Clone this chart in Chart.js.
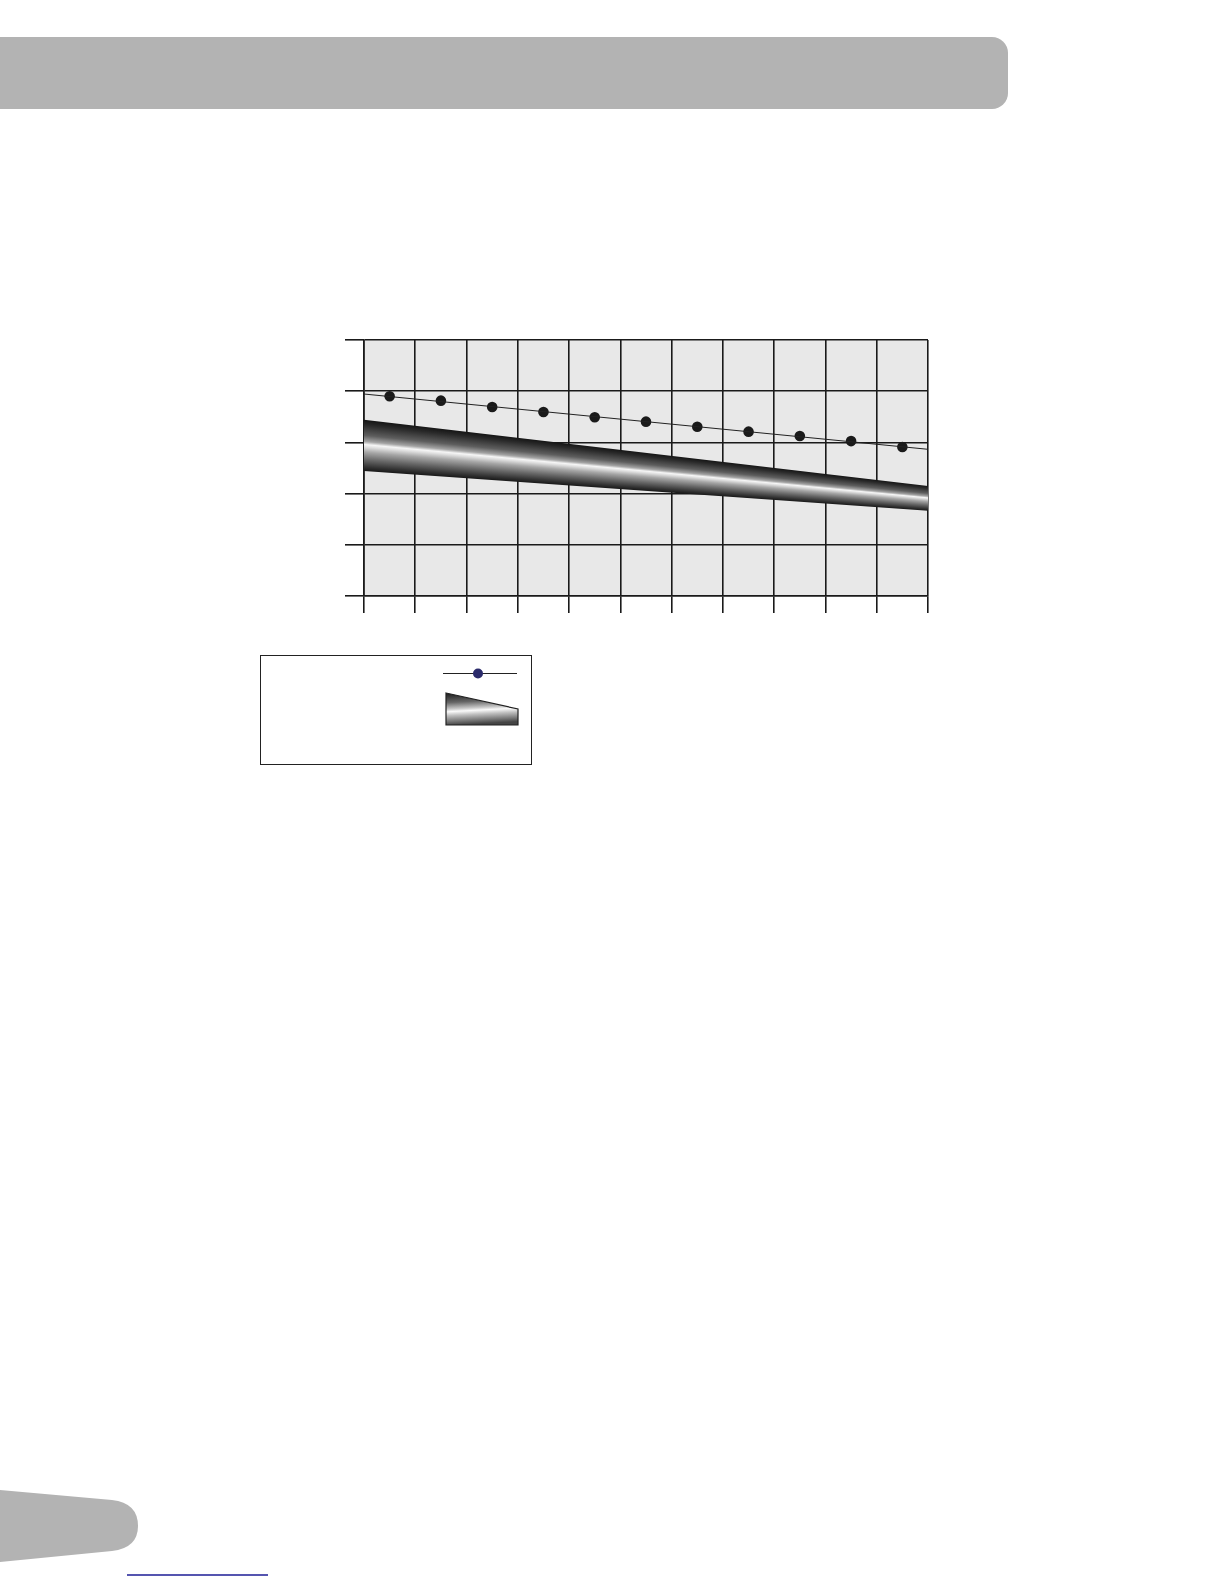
<!DOCTYPE html>
<html>
<head>
<meta charset="utf-8">
<script src="https://cdn.jsdelivr.net/npm/chart.js@4.4.1/dist/chart.umd.min.js"></script>
<style>
  html, body { margin: 0; padding: 0; background: #ffffff; }
  body { width: 1224px; height: 1584px; position: relative; overflow: hidden; font-family: "Liberation Sans", Arial, sans-serif; }
  #header { position: absolute; left: 0; top: 37px; width: 1008px; height: 72px; background: #b3b3b3; border-radius: 0 16px 16px 0; }
  #chartWrap { position: absolute; left: 345px; top: 330px; width: 593px; height: 293px; }
  #legendBox { position: absolute; left: 260px; top: 655px; width: 270px; height: 108px; border: 1.5px solid #222; background: #fff; }
</style>
</head>
<body>
<div id="header"></div>

<div id="chartWrap"><canvas id="chart"></canvas></div>

<div id="legendBox"></div>
<svg style="position:absolute;left:0;top:0" width="1224" height="1584">
  <defs>
    <linearGradient id="legGrad" x1="0" y1="0" x2="0.12" y2="1">
      <stop offset="0" stop-color="#1a1a1a"/>
      <stop offset="0.3" stop-color="#666"/>
      <stop offset="0.5" stop-color="#c8c8c8"/>
      <stop offset="0.58" stop-color="#fafafa"/>
      <stop offset="0.7" stop-color="#c0c0c0"/>
      <stop offset="0.88" stop-color="#777"/>
      <stop offset="1" stop-color="#444"/>
    </linearGradient>
  </defs>
  <line x1="443" y1="673.5" x2="517" y2="673.5" stroke="#222" stroke-width="1"/>
  <circle cx="478" cy="673.5" r="5" fill="#2b2b6b"/>
  <polygon points="446,693 518,709 518,725 446,725" fill="url(#legGrad)" stroke="#222" stroke-width="1.2"/>
  <path d="M0,1490 L112,1500 Q138,1503 138,1526 Q138,1548 112,1551 L0,1562 Z" fill="#b3b3b3"/>
  <line x1="127" y1="1575" x2="268" y2="1575" stroke="#1c1c96" stroke-width="1.5"/>
</svg>

<script>
// ---- data ----
const pointX = [0.5, 1.5, 2.5, 3.5, 4.5, 5.5, 6.5, 7.5, 8.5, 9.5, 10.5];
const pointValues = [78.0, 76.3, 73.8, 71.9, 69.8, 68.1, 66.1, 64.2, 62.5, 60.5, 58.2];
const trendX = [0, 11];
const trendValues = [78.9, 57.3];
const bandX = [0, 11];
const bandUpper = [68.8, 43.0];
const bandLower = [48.8, 33.3];
const xTicks = [0, 11, 1];   // min, max, step
const yTicks = [0, 100, 20]; // min, max, step

const toPts = (xs, ys) => xs.map((x, i) => ({ x: x, y: ys[i] }));

let cachedPattern = null, cacheKey = '';
function bandFill(context) {
  const chart = context.chart;
  const area = chart.chartArea;
  const xs = chart.scales.x, ys = chart.scales.y;
  if (!area || !xs || !ys) return 'rgba(0,0,0,0)';
  const key = chart.width + 'x' + chart.height + ':' + area.left + ',' + area.top + ',' + area.right + ',' + area.bottom;
  if (cachedPattern && cacheKey === key) return cachedPattern;
  const off = document.createElement('canvas');
  off.width = chart.width; off.height = chart.height;
  const g = off.getContext('2d');
  const x0 = xs.getPixelForValue(bandX[0]), x1 = xs.getPixelForValue(bandX[1]);
  const t0 = ys.getPixelForValue(bandUpper[0]), t1 = ys.getPixelForValue(bandUpper[1]);
  const b0 = ys.getPixelForValue(bandLower[0]), b1 = ys.getPixelForValue(bandLower[1]);
  for (let px = Math.floor(x0) - 1; px <= Math.ceil(x1) + 1; px++) {
    const f = Math.min(1, Math.max(0, (px + 0.5 - x0) / (x1 - x0)));
    const yt = t0 + f * (t1 - t0), yb = b0 + f * (b1 - b0);
    const gr = g.createLinearGradient(0, yt, 0, yb);
    gr.addColorStop(0, '#151515');
    gr.addColorStop(0.1, '#2a2a2a');
    gr.addColorStop(0.3, '#5e5e5e');
    gr.addColorStop(0.42, '#a4a4a4');
    gr.addColorStop(0.48, '#f6f6f6');
    gr.addColorStop(0.53, '#dedede');
    gr.addColorStop(0.63, '#a6a6a6');
    gr.addColorStop(0.78, '#686868');
    gr.addColorStop(0.92, '#333333');
    gr.addColorStop(1, '#181818');
    g.fillStyle = gr;
    g.fillRect(px, yt - 1, 1, yb - yt + 2);
  }
  cachedPattern = chart.ctx.createPattern(off, 'no-repeat');
  cacheKey = key;
  return cachedPattern;
}

const plotBg = {
  id: 'plotBg',
  beforeDraw(chart) {
    const { ctx, chartArea: a } = chart;
    ctx.save();
    ctx.fillStyle = '#e8e8e8';
    ctx.fillRect(a.left, a.top, a.right - a.left, a.bottom - a.top);
    ctx.restore();
  }
};

const gridColor = '#1a1a1a';
new Chart(document.getElementById('chart'), {
  type: 'scatter',
  data: {
    datasets: [
      { data: toPts(bandX, bandUpper), showLine: true, borderWidth: 0, borderColor: 'rgba(0,0,0,0)', pointRadius: 0, fill: false },
      { data: toPts(bandX, bandLower), showLine: true, borderWidth: 0, borderColor: 'rgba(0,0,0,0)', pointRadius: 0, fill: '-1', backgroundColor: bandFill },
      { data: toPts(trendX, trendValues), showLine: true, borderWidth: 1, borderColor: '#222', pointRadius: 0, fill: false },
      { data: toPts(pointX, pointValues), showLine: false, pointRadius: 5.3, pointBackgroundColor: '#1a1a1a', pointBorderColor: '#1a1a1a', pointBorderWidth: 0 }
    ]
  },
  options: {
    responsive: true,
    maintainAspectRatio: false,
    animation: false,
    events: [],
    layout: { padding: { left: 0, top: 10, right: 10, bottom: 10 } },
    plugins: { legend: { display: false }, tooltip: { enabled: false } },
    scales: {
      x: {
        type: 'linear', min: xTicks[0], max: xTicks[1],
        ticks: { display: false, stepSize: xTicks[2] },
        grid: { color: gridColor, lineWidth: 1.6, drawTicks: true, tickLength: 17, tickColor: gridColor },
        border: { display: true, color: gridColor, width: 1.6 }
      },
      y: {
        type: 'linear', min: yTicks[0], max: yTicks[1],
        ticks: { display: false, stepSize: yTicks[2] },
        grid: { color: gridColor, lineWidth: 1.6, drawTicks: true, tickLength: 19, tickColor: gridColor },
        border: { display: true, color: gridColor, width: 1.6 }
      }
    }
  },
  plugins: [plotBg]
});
</script>
</body>
</html>
